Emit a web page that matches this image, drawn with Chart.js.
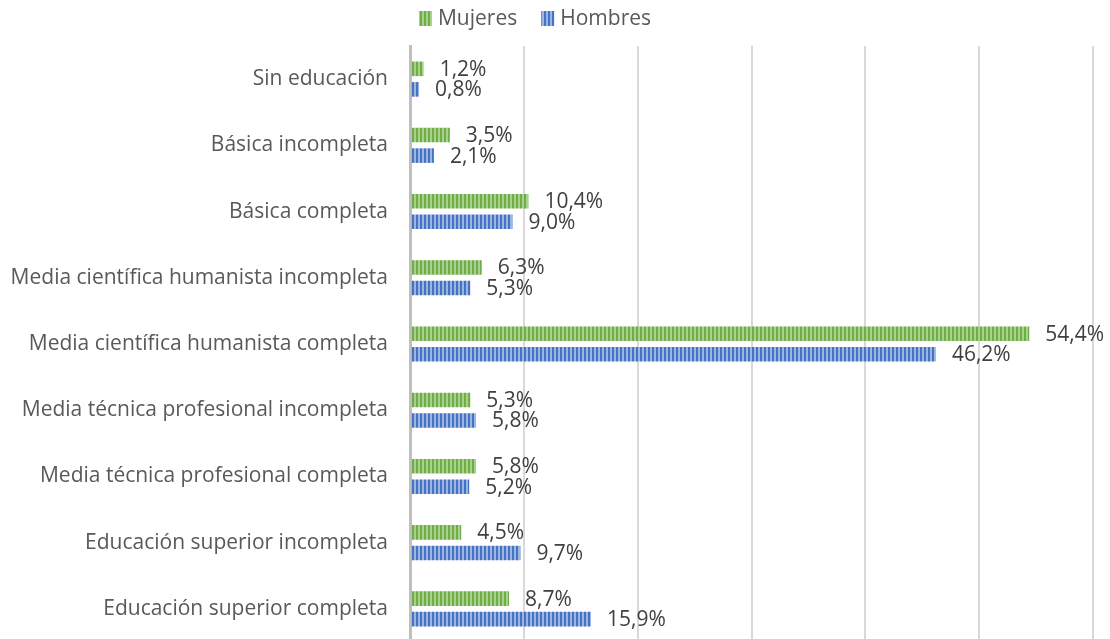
<!DOCTYPE html>
<html>
<head>
<meta charset="utf-8">
<script src="https://cdn.jsdelivr.net/npm/chart.js@4/dist/chart.umd.min.js"></script>
<style>
  html, body { margin: 0; padding: 0; background: #fff; overflow: hidden; }
  #wrap { width: 1110px; height: 642px; position: relative; }
</style>
</head>
<body>
<div id="wrap"><canvas id="chart"></canvas></div>
<script>
// --- data ---
const categories = [
  'Sin educación',
  'Básica incompleta',
  'Básica completa',
  'Media científica humanista incompleta',
  'Media científica humanista completa',
  'Media técnica profesional incompleta',
  'Media técnica profesional completa',
  'Educación superior incompleta',
  'Educación superior completa'
];
const mujeres = [1.2, 3.5, 10.4, 6.3, 54.4, 5.3, 5.8, 4.5, 8.7];
const hombres = [0.8, 2.1, 9.0, 5.3, 46.2, 5.8, 5.2, 9.7, 15.9];
const seriesNames = ['Mujeres', 'Hombres'];

const FONT = '"Open Sans", sans-serif';

// vertical stripe fill like the Excel pattern
function stripes(dark, light) {
  const c = document.createElement('canvas');
  c.width = 4; c.height = 4;
  const g = c.getContext('2d');
  g.fillStyle = dark; g.fillRect(0, 0, 2, 4);
  g.fillStyle = light; g.fillRect(2, 0, 2, 4);
  return g.createPattern(c, 'repeat');
}

const ctx = document.getElementById('chart').getContext('2d');
const greenFill = stripes('#70AD47', '#A9D18E');
const blueFill = stripes('#4472C4', '#9DB5E1');

// value labels drawn to the right of each bar
const valueLabels = {
  id: 'valueLabels',
  afterDatasetsDraw(chart) {
    const c = chart.ctx;
    c.save();
    c.font = '21px ' + FONT;
    c.fillStyle = '#404040';
    c.textBaseline = 'middle';
    c.textAlign = 'left';
    chart.data.datasets.forEach((ds, i) => {
      chart.getDatasetMeta(i).data.forEach((bar, j) => {
        const txt = ds.data[j].toFixed(1).replace('.', ',') + '%';
        c.fillText(txt, bar.x + 16, bar.y + 1);
      });
    });
    c.restore();
  }
};

// small legend at the top, Excel style (box close to its text)
const topLegend = {
  id: 'topLegend',
  afterDraw(chart) {
    const c = chart.ctx;
    c.save();
    c.font = '21px ' + FONT;
    c.textBaseline = 'middle';
    c.textAlign = 'left';
    const items = chart.data.datasets.map(ds => ({ text: ds.label, fill: ds.backgroundColor, w: c.measureText(ds.label).width }));
    const box = 13, gap = 6, between = 24;
    let total = 0;
    items.forEach((it, i) => { total += box + gap + it.w + (i ? between : 0); });
    let x = chart.width / 2 - 20 - total / 2;
    const y = 18;
    items.forEach(it => {
      c.fillStyle = it.fill;
      c.fillRect(x, y - 7, box, 15);
      c.fillStyle = '#595959';
      c.fillText(it.text, x + box + gap, y + 1);
      x += box + gap + it.w + between;
    });
    c.restore();
  }
};

new Chart(ctx, {
  type: 'bar',
  data: {
    labels: categories,
    datasets: [
      { label: seriesNames[0], data: mujeres, backgroundColor: greenFill, borderWidth: 0 },
      { label: seriesNames[1], data: hombres, backgroundColor: blueFill, borderWidth: 0 }
    ]
  },
  options: {
    indexAxis: 'y',
    responsive: true,
    maintainAspectRatio: false,
    animation: false,
    categoryPercentage: 0.62,
    barPercentage: 0.71,
    layout: { padding: { top: 46, right: 17, bottom: 0, left: 0 } },
    plugins: {
      tooltip: { enabled: false },
      legend: { display: false }
    },
    scales: {
      x: {
        min: 0,
        max: 60,
        afterFit: (axis) => { axis.height = 0; },
        ticks: { display: false, stepSize: 10 },
        grid: { color: '#D9D9D9', lineWidth: 2, drawTicks: false },
        border: { display: false }
      },
      y: {
        afterFit: (axis) => {
          axis.width = 410;
          axis.paddingTop = 0;
          axis.paddingBottom = 0;
        },
        ticks: {
          color: '#595959',
          padding: 22,
          font: { size: 21, family: FONT }
        },
        grid: { display: false, drawTicks: false },
        border: { display: true, color: '#BFBFBF', width: 3 }
      }
    }
  },
  plugins: [valueLabels, topLegend]
});
</script>
</body>
</html>
